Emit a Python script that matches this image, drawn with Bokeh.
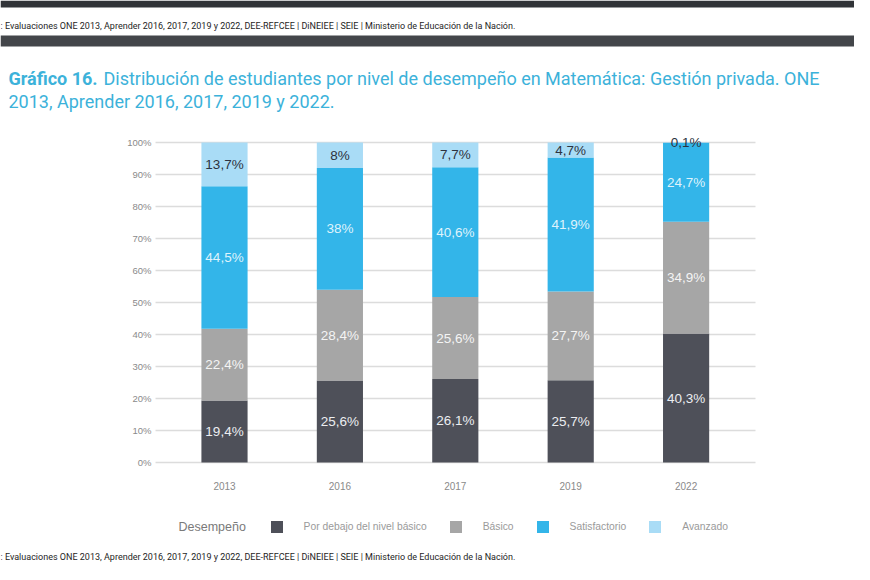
from bokeh.plotting import figure
from bokeh.models import (ColumnDataSource, Range1d, FixedTicker, Label, Legend,
                          LegendItem, BoxAnnotation)
from bokeh.core.properties import value
from bokeh.embed import file_html
from bokeh.resources import INLINE

# ---------------- data ----------------
years = ["2013", "2016", "2017", "2019", "2022"]
levels = ["Por debajo del nivel básico", "Básico", "Satisfactorio", "Avanzado"]
por_debajo = [19.4, 25.6, 26.1, 25.7, 40.3]
basico = [22.4, 28.4, 25.6, 27.7, 34.9]
satisfactorio = [44.5, 38.0, 40.6, 41.9, 24.7]
avanzado = [13.7, 8.0, 7.7, 4.7, 0.1]
y_ticks = [0, 10, 20, 30, 40, 50, 60, 70, 80, 90, 100]
y_tick_labels = ["0%", "10%", "20%", "30%", "40%", "50%", "60%", "70%", "80%", "90%", "100%"]

title_bold = "Gráfico 16."
title_line1 = "Distribución de estudiantes por nivel de desempeño en Matemática: Gestión privada. ONE"
title_line2 = "2013, Aprender 2016, 2017, 2019 y 2022."
source_text = ": Evaluaciones ONE 2013, Aprender 2016, 2017, 2019 y 2022, DEE-REFCEE | DiNEIEE | SEIE | Ministerio de Educación de la Nación."
legend_title = "Desempeño"

# ---------------- styles ----------------
colors = ["#4e5059", "#a6a6a6", "#33b5e9", "#a9dcf6"]
label_colors = ["#eceef1", "#f4f4f4", "#dff3fc", "#2d3340"]
series_keys = ["por_debajo", "basico", "satisfactorio", "avanzado"]
series = [por_debajo, basico, satisfactorio, avanzado]

xs = list(range(len(years)))
src = ColumnDataSource(dict(x=xs, por_debajo=por_debajo, basico=basico,
                            satisfactorio=satisfactorio, avanzado=avanzado))

# label positions (centre of each segment)
lx, ly, lt, lc = [], [], [], []
for i in xs:
    bottom = 0.0
    for k, s in enumerate(series):
        v = s[i]
        lx.append(i)
        ly.append(bottom + v / 2.0)
        lt.append(f"{v:g}".replace(".", ",") + "%")
        lc.append(label_colors[k])
        bottom += v
lab_src = ColumnDataSource(dict(x=lx, y=ly, text=lt, color=lc))

W, H = 854, 564
# pixel geometry of the chart area (canvas px)
x0_px, step_px = 224.0, 115.4        # first bar centre, distance between bars
y0_px, unit_px = 462.0, 3.2          # 0% line, px per percentage point
grid_left_px, grid_right_px = 155.0, 755.0

x_range = Range1d(-x0_px / step_px, (W - x0_px) / step_px)
y_range = Range1d(-(H - y0_px) / unit_px, y0_px / unit_px)

p = figure(width=W, height=H, x_range=x_range, y_range=y_range,
           output_backend="svg", toolbar_location=None,
           min_border=0, min_border_left=0, min_border_right=0,
           min_border_top=0, min_border_bottom=0)
p.outline_line_color = None
p.background_fill_color = "white"
p.border_fill_color = "white"
p.xgrid.visible = False
p.ygrid.visible = False

renderers = p.vbar_stack(series_keys, x="x", width=0.4, color=colors, source=src, line_width=0)

p.text(x="x", y="y", text="text", source=lab_src, text_color="color",
       text_font=value("Liberation Sans"), text_font_size="13.5px",
       text_align="center", text_baseline="middle")

# y axis drawn at the left end of the grid; its ticks act as the grid lines
p.yaxis.fixed_location = (grid_left_px - x0_px) / step_px
p.yaxis.ticker = FixedTicker(ticks=y_ticks)
p.yaxis.major_label_overrides = {t: l for t, l in zip(y_ticks, y_tick_labels)}
p.yaxis.major_tick_in = int(grid_right_px - grid_left_px)
p.yaxis.major_tick_out = 0
p.yaxis.major_tick_line_color = "#dcdcdc"
p.yaxis.major_tick_line_width = 1.5
p.yaxis.level = "underlay"
p.yaxis.major_label_standoff = 4
p.yaxis.major_label_text_font_size = "9.5px"

p.xaxis.fixed_location = 0
p.xaxis.ticker = FixedTicker(ticks=xs)
p.xaxis.major_label_overrides = {i: y for i, y in enumerate(years)}
p.xaxis.major_tick_line_color = None
p.xaxis.major_label_standoff = 13
p.xaxis.major_label_text_font_size = "10px"

for ax in (p.xaxis, p.yaxis):
    ax.axis_line_color = None
    ax.minor_tick_line_color = None
    ax.major_label_text_font = "Liberation Sans"
    ax.major_label_text_color = "#8a8a8a"

# legend
leg_cy = 526
legend = Legend(items=[LegendItem(label=lvl, renderers=[r]) for lvl, r in zip(levels, renderers)],
                location=(268.6, H - leg_cy - 7.5), orientation="horizontal",
                glyph_width=15, glyph_height=15, label_height=15, label_standoff=20, spacing=21,
                padding=0, margin=0, border_line_color=None, background_fill_alpha=0,
                label_text_font="Liberation Sans", label_text_font_size="10.3px",
                label_text_color="#9a9a9a", label_text_baseline="middle")
p.add_layout(legend, "center")

p.add_layout(Label(x=178, y=leg_cy, x_units="canvas", y_units="canvas", text=legend_title,
                   text_font="Liberation Sans", text_font_size="12.5px", text_color="#7a7a7a",
                   text_baseline="middle"))

# title
title_color = "#3cb2da"
p.add_layout(Label(x=8, y=78, x_units="canvas", y_units="canvas", text=title_bold,
                   text_font="Roboto", text_font_size="18px", text_font_style="bold",
                   text_color=title_color, text_baseline="middle"))
p.add_layout(Label(x=103, y=78, x_units="canvas", y_units="canvas", text=title_line1,
                   text_font="Roboto", text_font_size="18px",
                   text_color=title_color, text_baseline="middle"))
p.add_layout(Label(x=8, y=101, x_units="canvas", y_units="canvas", text=title_line2,
                   text_font="Roboto", text_font_size="18px",
                   text_color=title_color, text_baseline="middle"))

# screenshot header bands with the source line
p.add_layout(BoxAnnotation(left=0, right=W, top=0, bottom=7, left_units="canvas",
                           right_units="canvas", top_units="canvas", bottom_units="canvas",
                           fill_color="#313438", fill_alpha=1, line_color=None))
p.add_layout(BoxAnnotation(left=0, right=W, top=35, bottom=46, left_units="canvas",
                           right_units="canvas", top_units="canvas", bottom_units="canvas",
                           fill_color="#43464a", fill_alpha=1, line_color=None))
p.add_layout(Label(x=0, y=25, x_units="canvas", y_units="canvas", text=source_text,
                   text_font="Roboto", text_font_size="9px", text_color="#1e1e1e",
                   text_baseline="middle"))
p.add_layout(Label(x=0, y=556, x_units="canvas", y_units="canvas", text=source_text,
                   text_font="Roboto", text_font_size="9px", text_color="#1e1e1e",
                   text_baseline="middle"))

open("out.html", "w").write(file_html(p, INLINE))
